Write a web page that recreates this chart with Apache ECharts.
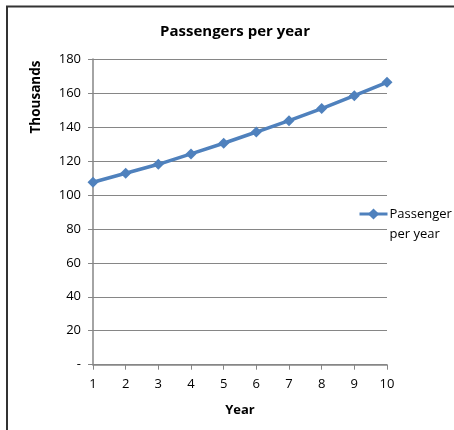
<!DOCTYPE html>
<html>
<head>
<meta charset="utf-8">
<script src="https://cdn.jsdelivr.net/npm/echarts@6/dist/echarts.min.js"></script>
<style>
  html, body { margin: 0; padding: 0; background: #fff; }
  #chart { width: 454px; height: 430px; }
</style>
</head>
<body>
<div id="chart"></div>
<script>
// Passenger counts (thousands) for years 1..10
const years = ['1', '2', '3', '4', '5', '6', '7', '8', '9', '10'];
const passengers = [107.4, 112.7, 118.0, 124.1, 130.4, 137.0, 143.7, 150.8, 158.4, 166.3];
const seriesName = 'Passenger per year';
const yTicks = { min: 0, max: 180, step: 20 };

const FONT = '"Open Sans", "Liberation Sans", sans-serif';
const AXIS_GREY = '#868686';
const LINE_BLUE = '#4F81BD';

const chart = echarts.init(document.getElementById('chart'), null, { renderer: 'canvas' });

chart.setOption({
  animation: false,
  backgroundColor: '#fff',
  textStyle: { fontFamily: FONT, color: '#000' },
  title: {
    text: 'Passengers per year',
    left: 230,
    textAlign: 'center',
    top: 19,
    textStyle: { fontFamily: FONT, fontSize: 15, fontWeight: 'bold', color: '#000' }
  },
  graphic: [
    {
      // chart-area frame (runs off the right and bottom edges)
      type: 'rect',
      shape: { x: 7, y: 6.5, width: 460, height: 440 },
      style: { fill: null, stroke: '#333', lineWidth: 2 },
      silent: true
    },
    {
      type: 'text',
      x: 36,
      y: 97,
      rotation: Math.PI / 2,
      style: {
        text: 'Thousands',
        fontFamily: FONT,
        fontSize: 13.5,
        fontWeight: 'bold',
        fill: '#000',
        align: 'center',
        verticalAlign: 'middle'
      }
    }
  ],
  legend: {
    left: 358,
    top: 184,
    itemWidth: 28,
    itemHeight: 14,
    itemGap: 0,
    padding: 0,
    lineStyle: { width: 3 },
    textStyle: { fontFamily: FONT, fontSize: 13, color: '#000', lineHeight: 20, padding: [0, 0, 0, -3] },
    // wrap the name so its first line sits level with the legend marker
    formatter: name => '\n' + name.replace(' ', '\n')
  },
  grid: { left: 93, right: 67, top: 59, bottom: 65.3, containLabel: false },
  xAxis: {
    type: 'category',
    data: years,
    boundaryGap: false,
    name: 'Year',
    nameLocation: 'middle',
    nameGap: 39,
    nameTextStyle: { fontFamily: FONT, fontSize: 13, fontWeight: 'bold', color: '#000' },
    axisLine: { lineStyle: { color: AXIS_GREY, width: 1.5 } },
    axisTick: { show: true, length: 5, lineStyle: { color: AXIS_GREY } },
    axisLabel: { fontFamily: FONT, fontSize: 13, color: '#000', margin: 13 },
    splitLine: { show: false }
  },
  yAxis: {
    type: 'value',
    min: yTicks.min,
    max: yTicks.max,
    interval: yTicks.step,
    axisLine: { show: true, lineStyle: { color: AXIS_GREY, width: 1.5 } },
    axisTick: { show: true, length: 5, lineStyle: { color: AXIS_GREY } },
    axisLabel: {
      fontFamily: FONT,
      fontSize: 13,
      color: '#000',
      margin: 12,
      formatter: v => (v === 0 ? '-' : String(v))
    },
    splitLine: { show: true, lineStyle: { color: AXIS_GREY, width: 1 } }
  },
  series: [
    {
      name: seriesName,
      type: 'line',
      data: passengers,
      symbol: 'diamond',
      symbolSize: 11,
      lineStyle: { color: LINE_BLUE, width: 3.5 },
      itemStyle: { color: LINE_BLUE },
      z: 3
    }
  ]
});
</script>
</body>
</html>
